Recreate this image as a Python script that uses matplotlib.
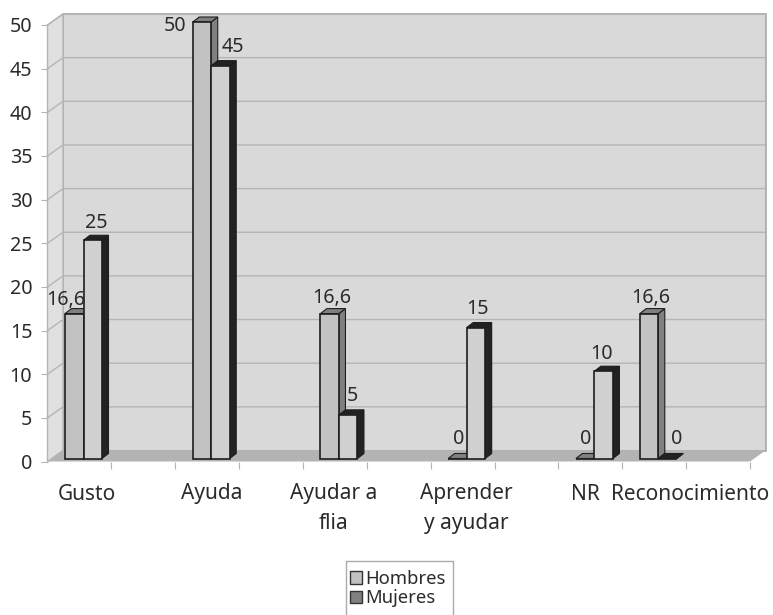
import matplotlib
matplotlib.use("Agg")
import matplotlib.pyplot as plt
from matplotlib.patches import Patch, Polygon, Rectangle

plt.rcParams["font.family"] = ["Noto Sans", "DejaVu Sans"]

# datos
CATEGORIES = ["Gusto", "Ayuda", "Ayudar a\nflia", "Aprender\ny ayudar", "NR", "Reconocimiento"]
SLOTS = [0, 2, 4, 6, 8, 9]
HOMBRES = [16.6, 50, 16.6, 0, 0, 16.6]
MUJERES = [25, 45, 5, 15, 10, 0]
Y_TICKS = [0, 5, 10, 15, 20, 25, 30, 35, 40, 45, 50]

W, H = 773, 615
LEFT, RIGHT, BOTTOM, TOP = 47.5, 750.0, 461.5, 25.0
N_SLOTS = 11
PX = N_SLOTS / (RIGHT - LEFT)  # slots por pixel
PY = 50 / (BOTTOM - TOP)  # unidades por pixel
PT = 0.72  # puntos por pixel a dpi 100

WALL_DX, WALL_DY = 15.5 * PX, 11 * PY
BAR_DX, BAR_DY = 6.5 * PX, 5 * PY
BAR_W = 18.5 * PX
BAR_X0 = 17.5 * PX
BAR_LIFT = 3 * PY

GRID = "#b5b5b5"
TEXT = "#2b2b2b"
EDGE = "#1e1e1e"

# ajustes de etiquetas en pixeles (x, y) respecto de la barra
NUDGE_H = [(-9, 4), (-27, -14), (2, 6), (1, 9), (1, 9), (2, 6)]
NUDGE_M = [(3, 7), (12, 9), (4, 9), (2, 9), (-2, 7), (9, 9)]
LABEL_X = [0.62, 2.57, 4.48, 6.56, 8.43, 10.06]


def box(ax, x, value, face, top_side, zorder):
    """Barra con cara frontal, techo y lateral."""
    y0 = BAR_LIFT
    y1 = y0 + value
    ax.bar(x, value, BAR_W, bottom=y0, align="edge", color=face, edgecolor=EDGE,
           linewidth=1.2, zorder=zorder + 0.2, clip_on=False)
    x1 = x + BAR_W
    top = [(x, y1), (x + BAR_DX, y1 + BAR_DY), (x1 + BAR_DX, y1 + BAR_DY), (x1, y1)]
    side = [(x1, y0), (x1 + BAR_DX, y0 + BAR_DY), (x1 + BAR_DX, y1 + BAR_DY), (x1, y1)]
    for pts in (side, top):
        ax.add_patch(Polygon(pts, closed=True, facecolor=top_side, edgecolor=EDGE,
                             linewidth=0.8, zorder=zorder, clip_on=False))


def bar_label(ax, x, value, nudge):
    text = str(value).replace(".", ",")
    ax.annotate(text, (x + BAR_W / 2, value + BAR_LIFT), xytext=(nudge[0] * PT, nudge[1] * PT),
                textcoords="offset points", ha="center", va="bottom", fontsize=14.2,
                color=TEXT, zorder=20, annotation_clip=False)


fig = plt.figure(figsize=(W / 100, H / 100), dpi=100)
ax = fig.add_axes([LEFT / W, 1 - BOTTOM / H, (RIGHT - LEFT) / W, (BOTTOM - TOP) / H])
ax.set_xlim(0, N_SLOTS)
ax.set_ylim(0, 50)
for spine in ax.spines.values():
    spine.set_visible(False)
ax.patch.set_visible(False)

# paredes y piso
ax.add_patch(Polygon([(WALL_DX, WALL_DY), (N_SLOTS + WALL_DX, WALL_DY),
                      (N_SLOTS + WALL_DX, 50 + WALL_DY), (WALL_DX, 50 + WALL_DY)],
                     facecolor="#d9d9d9", edgecolor="#a8a8a8", linewidth=1.2, zorder=1, clip_on=False))
ax.add_patch(Polygon([(0, 0), (WALL_DX, WALL_DY), (WALL_DX, 50 + WALL_DY), (0, 50)],
                     facecolor="#e0e0e0", edgecolor=GRID, linewidth=1, zorder=1, clip_on=False))
ax.add_patch(Polygon([(0, 0), (WALL_DX, WALL_DY), (N_SLOTS + WALL_DX, WALL_DY), (N_SLOTS, 0)],
                     facecolor="#b3b3b3", edgecolor="none", zorder=2, clip_on=False))
for v in Y_TICKS[1:]:
    ax.plot([0, WALL_DX, N_SLOTS + WALL_DX], [v, v + WALL_DY, v + WALL_DY], color=GRID,
            linewidth=1.0, zorder=2, clip_on=False)

# barras
for i, slot in enumerate(SLOTS):
    x_h = slot + BAR_X0
    x_m = x_h + BAR_W
    box(ax, x_h, HOMBRES[i], "#c2c2c2", "#808080", 3 + i)
    box(ax, x_m, MUJERES[i], "#d0d0d0", "#222222", 3.5 + i)
    bar_label(ax, x_h, HOMBRES[i], NUDGE_H[i])
    bar_label(ax, x_m, MUJERES[i], NUDGE_M[i])

# ejes
ax.set_yticks(Y_TICKS)
ax.tick_params(axis="y", length=5, color=GRID, labelsize=14.2, labelcolor=TEXT, pad=6)
ax.set_xticks(range(1, N_SLOTS + 1))
ax.tick_params(axis="x", length=5, color=GRID, labelbottom=False)

for cat, lx in zip(CATEGORIES, LABEL_X):
    ax.annotate(cat, (lx, 0), xytext=(0, -22 * PT), textcoords="offset points", ha="center",
                va="top", fontsize=15, color=TEXT, linespacing=1.55, annotation_clip=False)

# marco de la leyenda, cortado por el borde inferior
fig.add_artist(Rectangle((346 / W, -0.02), 107 / W, 1 - 561 / H + 0.02, transform=fig.transFigure,
                         facecolor="white", edgecolor="#ababab", linewidth=1))
handles = [Patch(facecolor="#c2c2c2", edgecolor="#333333", label="Hombres"),
           Patch(facecolor="#808080", edgecolor="#333333", label="Mujeres")]
leg = fig.legend(handles=handles, loc="upper left", bbox_to_anchor=(349.5 / W, 1 - 570 / H), fontsize=13.3,
                 frameon=False, handlelength=0.65, handleheight=0.65, handletextpad=0.2,
                 labelspacing=0.08, borderpad=0, borderaxespad=0, labelcolor=TEXT)
leg.set_zorder(5)

fig.savefig("out.png", dpi=100)
